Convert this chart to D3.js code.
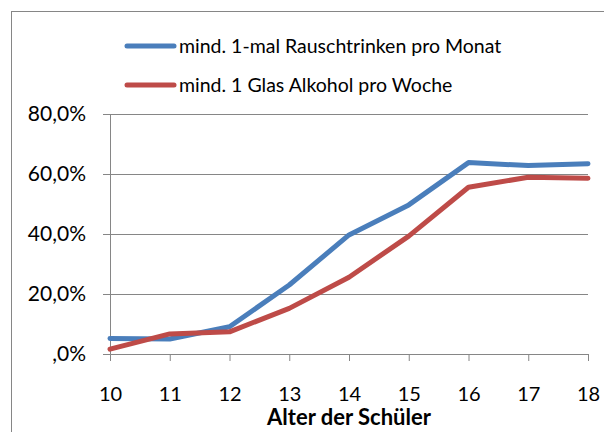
<!DOCTYPE html>
<html>
<head>
<meta charset="utf-8">
<script src="https://cdn.jsdelivr.net/npm/d3@7"></script>
<style>
  body { margin: 0; background: #fff; }
  svg { display: block; font-family: Lato, "Open Sans", sans-serif; }
</style>
</head>
<body>
<div id="chart-area"></div>
<script>
// data
const ages = [10, 11, 12, 13, 14, 15, 16, 17, 18];
const rausch = [5.2, 5.0, 9.1, 23.0, 39.7, 49.7, 63.8, 62.8, 63.4];
const alkohol = [1.6, 6.7, 7.4, 15.2, 25.6, 39.3, 55.6, 58.9, 58.6];
const yTicks = [0, 20, 40, 60, 80];
const seriesNames = ["mind. 1-mal Rauschtrinken pro Monat", "mind. 1 Glas Alkohol pro Woche"];
const colors = ["#4A7EBB", "#BE4B48"];

const W = 604, H = 432;
const margin = { left: 110, right: 16, top: 114, bottom: 78 };
const width = W - margin.left - margin.right,
    height = H - margin.top - margin.bottom;

const svg = d3.select("#chart-area")
    .append("svg")
    .attr("width", W)
    .attr("height", H);

// outer frame
svg.append("rect")
    .attr("x", 11.5).attr("y", 11.5)
    .attr("width", W).attr("height", H)
    .attr("fill", "none")
    .attr("stroke", "#868686")
    .attr("stroke-width", 1);

const g = svg.append("g")
    .attr("transform", "translate(" + margin.left + ", " + margin.top + ")");

const x = d3.scaleLinear()
    .domain([d3.min(ages), d3.max(ages)])
    .range([0, width]);

const y = d3.scaleLinear()
    .domain([0, 80])
    .range([height, 0]);

// GRIDLINES
g.append("g")
    .selectAll("line")
    .data(yTicks.filter(d => d > 0))
    .enter()
    .append("line")
    .attr("x1", -7)
    .attr("x2", width)
    .attr("y1", d => Math.round(y(d)) + 0.5)
    .attr("y2", d => Math.round(y(d)) + 0.5)
    .attr("stroke", "#868686");

// Y AXIS
const yAxisCall = d3.axisLeft(y)
    .tickValues(yTicks)
    .tickSize(7)
    .tickPadding(17)
    .tickFormat(d => d === 0 ? ",0%" : d + ",0%");
const yAxis = g.append("g")
    .attr("class", "y-axis")
    .call(yAxisCall);

// X AXIS
const xAxisCall = d3.axisBottom(x)
    .tickValues(ages)
    .tickSize(7)
    .tickPadding(26)
    .tickFormat(d3.format("d"));
const xAxis = g.append("g")
    .attr("class", "x-axis")
    .attr("transform", "translate(0, " + height + ")")
    .call(xAxisCall);

[yAxis, xAxis].forEach(a => {
    a.select(".domain").attr("stroke", "#868686");
    a.selectAll(".tick line").attr("stroke", "#868686");
    a.selectAll(".tick text")
        .attr("fill", "#000")
        .attr("font-family", "Lato, sans-serif");
});
yAxis.selectAll(".tick text").attr("font-size", "21px");
xAxis.selectAll(".tick text").attr("font-size", "20px");
xAxis.selectAll(".tick").filter(d => d === ages[0]).select("line").remove();

// X LABEL
g.append("text")
    .attr("x", width / 2)
    .attr("y", height + 71)
    .attr("text-anchor", "middle")
    .attr("font-size", "22px")
    .attr("font-weight", "bold")
    .text("Alter der Schüler");

// LINES
const line = d3.line()
    .x((d, i) => x(ages[i]))
    .y(d => y(d));

[rausch, alkohol].forEach((s, i) => {
    g.append("path")
        .datum(s)
        .attr("fill", "none")
        .attr("stroke", colors[i])
        .attr("stroke-width", 5)
        .attr("stroke-linejoin", "round")
        .attr("stroke-linecap", "round")
        .attr("d", line);
});

// LEGEND
const legend = svg.append("g")
    .selectAll("g")
    .data(seriesNames)
    .enter()
    .append("g")
    .attr("transform", (d, i) => "translate(127, " + (46 + i * 39) + ")");

legend.append("line")
    .attr("x1", 0).attr("x2", 47)
    .attr("stroke", (d, i) => colors[i])
    .attr("stroke-width", 5)
    .attr("stroke-linecap", "round");

legend.append("text")
    .attr("x", 52)
    .attr("y", 7)
    .attr("font-size", "19.5px")
    .text(d => d);
</script>
</body>
</html>
